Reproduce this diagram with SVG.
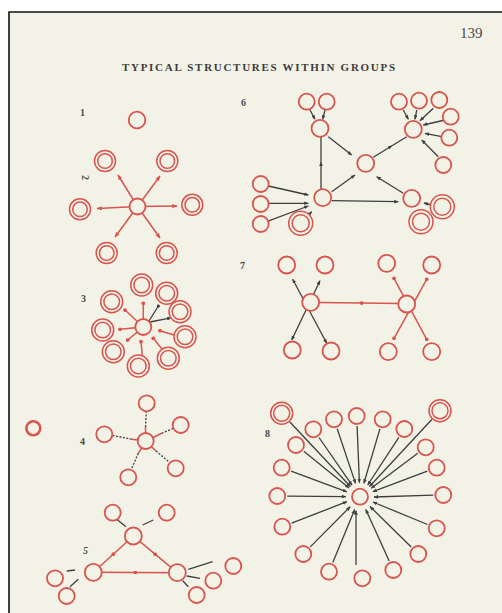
<svg xmlns="http://www.w3.org/2000/svg" width="502" height="613" viewBox="0 0 502 613">
<style>
.c{fill:#f3f2e7;stroke:#d9544d;stroke-width:1.8}
.d{fill:#f3f2e7;stroke:#d9544d;stroke-width:1.5}
.r{stroke:#d9544d;stroke-width:1.5;fill:none}
.k{stroke:#3f3f3f;stroke-width:1.3;fill:none}
.lbl{font-family:"Liberation Serif",serif;font-size:10px;font-weight:bold;fill:#4a4a4a}
</style>
<defs>
<marker id="ra" viewBox="0 0 10 10" refX="9" refY="5" markerWidth="3.5" markerHeight="3.5" orient="auto-start-reverse"><path d="M0,1 L10,5 L0,9 z" fill="#d9544d"/></marker>
<marker id="ka" viewBox="0 0 10 10" refX="9" refY="5" markerWidth="3.5" markerHeight="3.5" orient="auto-start-reverse"><path d="M0,1 L10,5 L0,9 z" fill="#3f3f3f"/></marker>
<marker id="rd" viewBox="0 0 10 10" refX="5" refY="5" markerWidth="2.5" markerHeight="2.5"><circle cx="5" cy="5" r="5" fill="#d9544d"/></marker>
<marker id="kd" viewBox="0 0 10 10" refX="5" refY="5" markerWidth="2.5" markerHeight="2.5"><circle cx="5" cy="5" r="5" fill="#3f3f3f"/></marker>
</defs>
<rect width="502" height="613" fill="#ffffff"/>
<rect x="9" y="12" width="493" height="601" fill="#f3f2e7"/>
<path d="M9,613 V12 H502" fill="none" stroke="#111" stroke-width="1.6"/>
<text x="460" y="38" font-family="Liberation Serif,serif" font-size="15" fill="#4a4a4a">139</text>
<text x="122" y="71" font-family="Liberation Serif,serif" font-size="11" font-weight="bold" fill="#3c3c3c" textLength="273" lengthAdjust="spacing">TYPICAL STRUCTURES WITHIN GROUPS</text>
<g id="labels">
<text class="lbl" x="80" y="116">1</text>
<text class="lbl" transform="rotate(90 85 178)" x="82" y="181">2</text>
<text class="lbl" x="81" y="302">3</text>
<text class="lbl" x="80" y="445">4</text>
<text class="lbl" x="83" y="554" font-style="italic" font-weight="normal">5</text>
<text class="lbl" x="241" y="106">6</text>
<text class="lbl" x="240" y="269">7</text>
<text class="lbl" x="265" y="437">8</text>
</g>
<g id="connectors">
<!-- fig 2 -->
<g class="r" marker-end="url(#ra)">
<line x1="137.5" y1="206.5" x2="118" y2="175"/>
<line x1="137.5" y1="206.5" x2="160" y2="176"/>
<line x1="137.5" y1="206.5" x2="97" y2="208.5"/>
<line x1="137.5" y1="206.5" x2="177" y2="206"/>
<line x1="137.5" y1="206.5" x2="115" y2="237"/>
<line x1="137.5" y1="206.5" x2="160" y2="238"/>
</g>
<!-- fig 3 -->
<g class="r">
<line x1="143.3" y1="327" x2="143.3" y2="303.3" marker-end="url(#rd)"/>
<line x1="143.3" y1="327" x2="125" y2="310" marker-end="url(#rd)"/>
<line x1="143.3" y1="327" x2="120" y2="329.3" marker-end="url(#rd)"/>
<line x1="143.3" y1="327" x2="127.7" y2="340" marker-end="url(#rd)"/>
<line x1="142.3" y1="355" x2="141" y2="341.7" marker-end="url(#rd)"/>
<line x1="162" y1="349" x2="153.3" y2="338.3" marker-end="url(#rd)"/>
<line x1="174" y1="335" x2="160" y2="330.7" marker-end="url(#rd)"/>
</g>
<g class="k" stroke-width="1.6">
<line x1="149" y1="321" x2="158.3" y2="306" marker-end="url(#kd)"/>
<line x1="150" y1="322" x2="168.3" y2="318.3" marker-end="url(#kd)"/>
</g>
<!-- fig 4 -->
<g class="r" stroke-width="2">
<line x1="145.7" y1="441" x2="145.5" y2="427"/>
<line x1="145.7" y1="441" x2="161.7" y2="433.3"/>
<line x1="145.7" y1="441" x2="131.7" y2="439.3"/>
<line x1="145.7" y1="441" x2="156" y2="451"/>
<line x1="145.7" y1="441" x2="138.3" y2="453.3"/>
</g>
<g class="k" stroke-dasharray="2 1.5">
<line x1="145.5" y1="427" x2="146.3" y2="412"/>
<line x1="161.7" y1="433.3" x2="173" y2="428.5"/>
<line x1="131.7" y1="439.3" x2="112.5" y2="435.5"/>
<line x1="156" y1="451" x2="169" y2="462"/>
<line x1="138.3" y1="453.3" x2="131.5" y2="469"/>
</g>
<!-- fig 5 -->
<g class="r" stroke-width="1.7" marker-mid="url(#rd)">
<path d="M133.3,536 L113.3,554.2 L93.3,572.3"/>
<path d="M133.3,536 L155.3,554.3 L177.3,572.7"/>
<path d="M93.3,572.3 L135.3,572.5 L177.3,572.7"/>
</g>
<g class="k" stroke-width="2.2">
<line x1="116.7" y1="519.3" x2="126" y2="526.7"/>
<line x1="142.7" y1="525" x2="153.3" y2="520"/>
<line x1="66.7" y1="571" x2="75" y2="570"/>
<line x1="70" y1="586.7" x2="78.3" y2="579.3"/>
<line x1="188.3" y1="569.3" x2="212.7" y2="561.7"/>
<line x1="186.7" y1="576" x2="200" y2="578.3"/>
<line x1="182.7" y1="580.7" x2="188.3" y2="586.7"/>
</g>
<!-- fig 6 -->
<g class="k" stroke-width="1.5" marker-end="url(#ka)">
<line x1="310" y1="110" x2="315" y2="119.3"/>
<line x1="325" y1="110" x2="322.7" y2="119.3"/>
<line x1="328.3" y1="136.7" x2="351.7" y2="155"/>
<line x1="331.7" y1="191.7" x2="355" y2="175"/>
<line x1="403.3" y1="193.3" x2="376.7" y2="176.7"/>
<line x1="331.7" y1="200.7" x2="398.3" y2="201.7"/>
<line x1="268.3" y1="186" x2="308.3" y2="195"/>
<line x1="268.3" y1="203.3" x2="308.3" y2="203.3"/>
<line x1="266.7" y1="221.7" x2="308.3" y2="206"/>
<line x1="306.7" y1="216.7" x2="311.7" y2="211.7"/>
<line x1="403.3" y1="110" x2="408.3" y2="119.3"/>
<line x1="416.7" y1="110" x2="415" y2="119.3"/>
<line x1="433.3" y1="108.3" x2="420" y2="120.7"/>
<line x1="445" y1="120" x2="423.3" y2="125"/>
<line x1="441.7" y1="136.7" x2="425" y2="133.3"/>
<line x1="438.3" y1="156.7" x2="421.7" y2="140"/>
<line x1="431.7" y1="205" x2="424" y2="203"/>
<line x1="420" y1="213.3" x2="416.7" y2="210"/>
</g>
<g class="k" stroke-width="1.5" marker-mid="url(#ka)">
<path d="M321,190 L321,162 L321,137"/>
<path d="M373.3,157.3 L392,145.7 L406.7,136.7"/>
</g>
<!-- fig 7 -->
<g class="k" stroke-width="1.6" marker-start="url(#ka)" marker-end="url(#ka)">
<line x1="292.7" y1="279.3" x2="326.7" y2="343.3"/>
<line x1="320" y1="280.7" x2="291.7" y2="340"/>
</g>
<g class="r" stroke-width="1.6">
<path d="M318.7,302.5 L361.7,303 L398.7,303.5" marker-mid="url(#rd)"/>
<line x1="394" y1="278.3" x2="426.7" y2="339.3" marker-start="url(#rd)" marker-end="url(#rd)"/>
<line x1="426.7" y1="279.3" x2="394" y2="338.3" marker-start="url(#rd)" marker-end="url(#rd)"/>
</g>
<!-- fig 8 -->
<g class="k" stroke="#4a4a4a" stroke-width="1.2" marker-end="url(#ka)">
<line x1="289.9" y1="422" x2="350.4" y2="486.5"/>
<line x1="319" y1="437.5" x2="352" y2="485.2"/>
<line x1="337.2" y1="428.8" x2="355.5" y2="483.4"/>
<line x1="357.1" y1="426" x2="359.4" y2="482.7"/>
<line x1="379.9" y1="428.9" x2="363.9" y2="483.3"/>
<line x1="398.8" y1="437.4" x2="367.7" y2="485"/>
<line x1="431.8" y1="419.5" x2="369.5" y2="486.5"/>
<line x1="303.8" y1="451.3" x2="349.1" y2="487.9"/>
<line x1="417.7" y1="453.3" x2="371.2" y2="488.3"/>
<line x1="291.1" y1="471.2" x2="346.9" y2="491.8"/>
<line x1="427.3" y1="471.2" x2="372.9" y2="491.7"/>
<line x1="287.3" y1="496.1" x2="346" y2="496.6"/>
<line x1="433.3" y1="495.2" x2="374" y2="497"/>
<line x1="291.6" y1="523.1" x2="346.9" y2="501.7"/>
<line x1="427.5" y1="524.5" x2="372.9" y2="502"/>
<line x1="310.3" y1="546.9" x2="350.2" y2="506.7"/>
<line x1="411.2" y1="547" x2="370" y2="506.5"/>
<line x1="332.8" y1="562.5" x2="354.7" y2="509.6"/>
<line x1="356" y1="565" x2="356" y2="510.7"/>
<line x1="389.2" y1="560.9" x2="365.8" y2="509.5"/>
</g>
</g>
<!-- nodes -->
<g id="lone"><circle cx="33.3" cy="428.3" r="7" fill="none" stroke="#d9544d" stroke-width="2.6"/></g>
<g id="fig1"><g id="f1-n"><circle class="c" cx="137" cy="120" r="8.3"/></g></g>
<g id="fig2">
<g id="f2-hub"><circle class="c" cx="137.5" cy="206.5" r="8"/></g>
<g id="f2-tl"><circle class="d" cx="105" cy="161" r="10.5"/><circle class="d" cx="105" cy="161" r="7.3"/></g>
<g id="f2-tr"><circle class="d" cx="167.3" cy="161" r="10.5"/><circle class="d" cx="167.3" cy="161" r="7.3"/></g>
<g id="f2-l"><circle class="d" cx="80" cy="209.3" r="10.5"/><circle class="d" cx="80" cy="209.3" r="7.3"/></g>
<g id="f2-r"><circle class="d" cx="192.3" cy="204.8" r="10.5"/><circle class="d" cx="192.3" cy="204.8" r="7.3"/></g>
<g id="f2-bl"><circle class="d" cx="106.7" cy="253" r="10.5"/><circle class="d" cx="106.7" cy="253" r="7.3"/></g>
<g id="f2-br"><circle class="d" cx="166.7" cy="253" r="10.5"/><circle class="d" cx="166.7" cy="253" r="7.3"/></g>
</g>
<g id="fig3">
<g id="f3-hub"><circle class="c" cx="143.3" cy="327" r="8"/></g>
<g id="f3-1"><circle class="d" cx="141.7" cy="285" r="11"/><circle class="d" cx="141.7" cy="285" r="7.8"/></g>
<g id="f3-2"><circle class="d" cx="166.7" cy="293.3" r="11"/><circle class="d" cx="166.7" cy="293.3" r="7.8"/></g>
<g id="f3-3"><circle class="d" cx="180" cy="311.7" r="11"/><circle class="d" cx="180" cy="311.7" r="7.8"/></g>
<g id="f3-4"><circle class="d" cx="185" cy="336.7" r="11"/><circle class="d" cx="185" cy="336.7" r="7.8"/></g>
<g id="f3-5"><circle class="d" cx="168.3" cy="358.3" r="11"/><circle class="d" cx="168.3" cy="358.3" r="7.8"/></g>
<g id="f3-6"><circle class="d" cx="138.3" cy="366" r="11"/><circle class="d" cx="138.3" cy="366" r="7.8"/></g>
<g id="f3-7"><circle class="d" cx="113.3" cy="351.7" r="11"/><circle class="d" cx="113.3" cy="351.7" r="7.8"/></g>
<g id="f3-8"><circle class="d" cx="102.7" cy="330" r="11"/><circle class="d" cx="102.7" cy="330" r="7.8"/></g>
<g id="f3-9"><circle class="d" cx="111.7" cy="301.7" r="11"/><circle class="d" cx="111.7" cy="301.7" r="7.8"/></g>
</g>
<g id="fig4">
<g id="f4-hub"><circle class="c" cx="145.7" cy="441" r="8"/></g>
<g id="f4-t"><circle class="c" cx="146.7" cy="403.3" r="8"/></g>
<g id="f4-r"><circle class="c" cx="180.7" cy="425" r="8"/></g>
<g id="f4-l"><circle class="c" cx="104.3" cy="434.3" r="8"/></g>
<g id="f4-br"><circle class="c" cx="175.7" cy="468.3" r="8"/></g>
<g id="f4-bl"><circle class="c" cx="128.3" cy="477.3" r="8"/></g>
</g>
<g id="fig5">
<g id="f5-t"><circle class="c" cx="133.3" cy="536" r="8.5"/></g>
<g id="f5-l"><circle class="c" cx="93.3" cy="572.3" r="8.5"/></g>
<g id="f5-r"><circle class="c" cx="177.3" cy="572.7" r="8.5"/></g>
<g id="f5-a"><circle class="c" cx="112.7" cy="512.7" r="8"/></g>
<g id="f5-b"><circle class="c" cx="166.7" cy="512.7" r="8"/></g>
<g id="f5-c"><circle class="c" cx="55" cy="578.3" r="8"/></g>
<g id="f5-d"><circle class="c" cx="66.7" cy="596" r="8"/></g>
<g id="f5-e"><circle class="c" cx="233.3" cy="566" r="8"/></g>
<g id="f5-f"><circle class="c" cx="213.3" cy="580.7" r="8"/></g>
<g id="f5-g"><circle class="c" cx="196.7" cy="595" r="8"/></g>
</g>
<g id="fig6">
<g id="f6-p1"><circle class="c" cx="306.7" cy="101.7" r="8"/></g>
<g id="f6-p2"><circle class="c" cx="326.7" cy="101.7" r="8"/></g>
<g id="f6-a"><circle class="c" cx="320" cy="128.3" r="8.5"/></g>
<g id="f6-b"><circle class="c" cx="413.3" cy="129.3" r="8.5"/></g>
<g id="f6-c"><circle class="c" cx="365.7" cy="163.3" r="8.5"/></g>
<g id="f6-d"><circle class="c" cx="322.7" cy="197.7" r="8.5"/></g>
<g id="f6-e"><circle class="c" cx="411.7" cy="198.3" r="8.5"/></g>
<g id="f6-t1"><circle class="c" cx="399" cy="101.7" r="8"/></g>
<g id="f6-t2"><circle class="c" cx="419" cy="100.7" r="8"/></g>
<g id="f6-t3"><circle class="c" cx="439.3" cy="100" r="8"/></g>
<g id="f6-t4"><circle class="c" cx="450.7" cy="116.7" r="8"/></g>
<g id="f6-t5"><circle class="c" cx="449.3" cy="137.7" r="8"/></g>
<g id="f6-t6"><circle class="c" cx="443.3" cy="165" r="8"/></g>
<g id="f6-l1"><circle class="c" cx="260.7" cy="184" r="8"/></g>
<g id="f6-l2"><circle class="c" cx="260.7" cy="204" r="8"/></g>
<g id="f6-l3"><circle class="c" cx="260.7" cy="224" r="8"/></g>
<g id="f6-dd"><circle class="d" cx="300.7" cy="223.3" r="12"/><circle class="d" cx="300.7" cy="223.3" r="8.5"/></g>
<g id="f6-e1"><circle class="d" cx="442.3" cy="206.7" r="12"/><circle class="d" cx="442.3" cy="206.7" r="8.5"/></g>
<g id="f6-e2"><circle class="d" cx="421" cy="221.7" r="12"/><circle class="d" cx="421" cy="221.7" r="8.5"/></g>
</g>
<g id="fig7">
<g id="f7-l"><circle class="c" cx="310.7" cy="302.3" r="8.5"/></g>
<g id="f7-r"><circle class="c" cx="406.7" cy="304" r="8.5"/></g>
<g id="f7-1"><circle class="c" cx="286.7" cy="265" r="8.5"/></g>
<g id="f7-2"><circle class="c" cx="325" cy="265" r="8.5"/></g>
<g id="f7-3"><circle class="c" cx="292.3" cy="350" r="8.5"/></g>
<g id="f7-4"><circle class="c" cx="331" cy="351" r="8.5"/></g>
<g id="f7-5"><circle class="c" cx="386.7" cy="263.3" r="8.5"/></g>
<g id="f7-6"><circle class="c" cx="431.7" cy="265" r="8.5"/></g>
<g id="f7-7"><circle class="c" cx="388.3" cy="351.7" r="8.5"/></g>
<g id="f7-8"><circle class="c" cx="431.7" cy="351.7" r="8.5"/></g>
</g>
<g id="fig8">
<g id="f8-hub"><circle class="c" cx="360" cy="496.7" r="8"/></g>
<g id="f8-1"><circle class="d" cx="281.7" cy="413.3" r="11"/><circle class="d" cx="281.7" cy="413.3" r="8"/></g>
<g id="f8-2"><circle class="c" cx="313.3" cy="429.3" r="8"/></g>
<g id="f8-3"><circle class="c" cx="334" cy="419.3" r="8"/></g>
<g id="f8-4"><circle class="c" cx="356.7" cy="416" r="8"/></g>
<g id="f8-5"><circle class="c" cx="382.7" cy="419.3" r="8"/></g>
<g id="f8-6"><circle class="c" cx="404.3" cy="429" r="8"/></g>
<g id="f8-7"><circle class="d" cx="440" cy="410.7" r="11"/><circle class="d" cx="440" cy="410.7" r="8"/></g>
<g id="f8-8"><circle class="c" cx="296" cy="445" r="8"/></g>
<g id="f8-9"><circle class="c" cx="425.7" cy="447.3" r="8"/></g>
<g id="f8-10"><circle class="c" cx="281.7" cy="467.7" r="8"/></g>
<g id="f8-11"><circle class="c" cx="436.7" cy="467.7" r="8"/></g>
<g id="f8-12"><circle class="c" cx="277.3" cy="496" r="8"/></g>
<g id="f8-13"><circle class="c" cx="443.3" cy="495" r="8"/></g>
<g id="f8-14"><circle class="c" cx="282.3" cy="526.7" r="8"/></g>
<g id="f8-15"><circle class="c" cx="436.7" cy="528.3" r="8"/></g>
<g id="f8-16"><circle class="c" cx="303.3" cy="554" r="8"/></g>
<g id="f8-17"><circle class="c" cx="418.3" cy="554" r="8"/></g>
<g id="f8-18"><circle class="c" cx="329" cy="571.7" r="8"/></g>
<g id="f8-19"><circle class="c" cx="362.3" cy="578.3" r="8"/></g>
<g id="f8-20"><circle class="c" cx="393.3" cy="570" r="8"/></g>
</g>
</svg>
